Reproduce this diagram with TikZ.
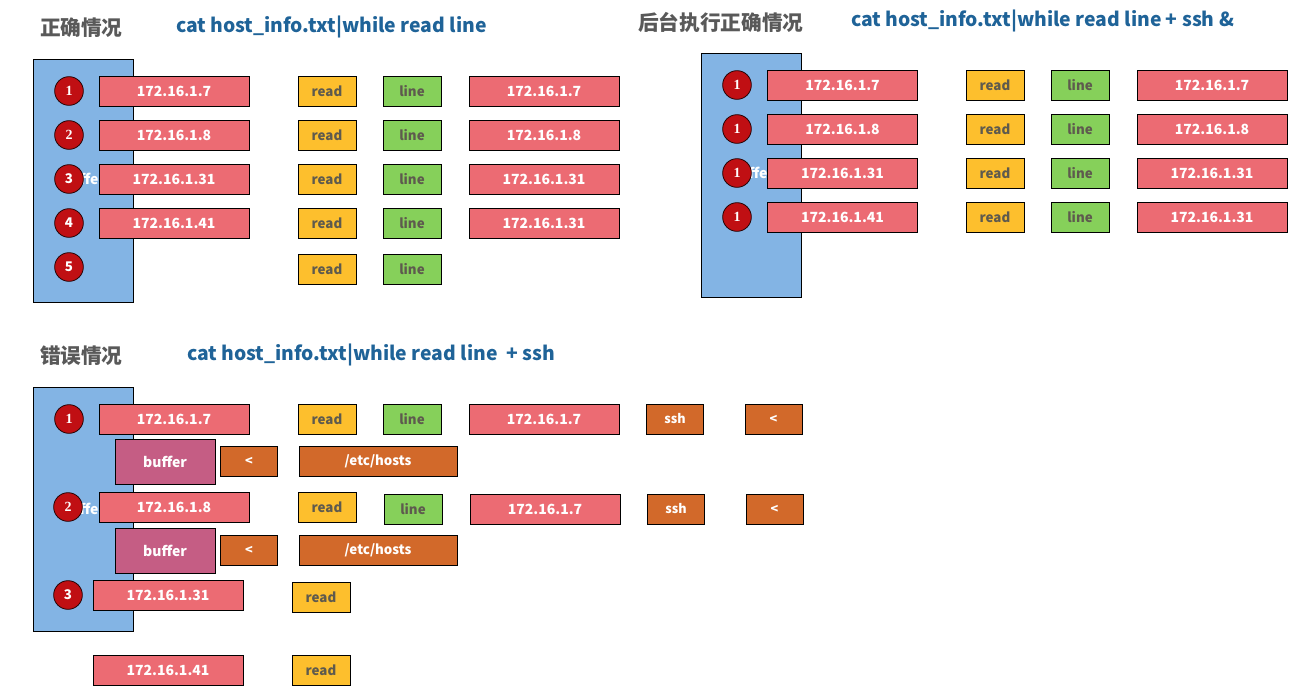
\documentclass[tikz,border=0pt]{standalone}
\usepackage{fontspec}
\setmainfont{Noto Sans CJK SC}
\newfontfamily\numfont{Liberation Serif}
\usetikzlibrary{positioning}
\definecolor{stackblue}{HTML}{83B4E4}
\definecolor{ipred}{HTML}{EC6B73}
\definecolor{readgold}{HTML}{FDBF2D}
\definecolor{linegreen}{HTML}{86D05A}
\definecolor{redirbrown}{HTML}{D2692A}
\definecolor{bufpink}{HTML}{C55D84}
\definecolor{numred}{HTML}{C00F13}
\definecolor{titlegray}{HTML}{595959}
\definecolor{cmdblue}{HTML}{1F6398}
\definecolor{labelgray}{HTML}{5E5A4E}

\begin{document}
\begin{tikzpicture}[x=0.75pt,y=-0.75pt,
  every node/.style={inner sep=0pt,outer sep=0pt},
  box/.style={draw=black,line width=0.6pt,minimum height=22.5pt},
  ipbox/.style={box,fill=ipred,text=white,minimum width=112.5pt,font=\bfseries\fontsize{10.5}{12}\selectfont},
  readbox/.style={box,fill=readgold,text=labelgray,minimum width=43.5pt,font=\bfseries\fontsize{10}{12}\selectfont},
  linebox/.style={box,fill=linegreen,text=labelgray,minimum width=43.5pt,font=\bfseries\fontsize{10}{12}\selectfont},
  redirbox/.style={box,fill=redirbrown,text=white,minimum width=42.75pt,font=\bfseries\fontsize{9.5}{12}\selectfont},
  filebox/.style={box,fill=redirbrown,text=white,minimum width=118.5pt,font=\bfseries\fontsize{10}{12}\selectfont},
  bufbox/.style={box,fill=bufpink,text=white,minimum width=75pt,minimum height=33.75pt,font=\bfseries\fontsize{10.5}{12}\selectfont},
  stack/.style={draw=black,line width=0.6pt,fill=stackblue},
  hidden/.style={text=white,font=\bfseries\fontsize{10.5}{12}\selectfont},
  num/.style={circle,draw=black!80!numred,line width=0.6pt,fill=numred,text=white,minimum size=21.5pt,font=\numfont\bfseries\fontsize{10.5}{12}\selectfont},
  numsans/.style={num,font=\bfseries\fontsize{10}{12}\selectfont},
  case/.style={anchor=west,text=titlegray,font=\bfseries\fontsize{15.5}{18}\selectfont},
  cmd/.style={anchor=west,text=cmdblue,font=\bfseries\fontsize{14.5}{17}\selectfont}]
  \useasboundingbox (0,0) rectangle (1289,687);

  % correct case
  \node[case] (okTitle) at (40,28) {正确情况};
  \node[cmd] (okCmd) at (176,27) {cat host\_info.txt|while read line};
  \draw[stack] (33,59) rectangle (133,302);
  \node[hidden] (okBuf) at (83,179) {buffer};
  \node[num] (okN1) at (69,91) {1};
  \node[num] (okN2) at (69,135) {2};
  \node[numsans] (okN3) at (69,179) {3};
  \node[numsans] (okN4) at (69,223) {4};
  \node[numsans] (okN5) at (69,267) {5};
  \node[ipbox] (okIp1) at (174,91) {172.16.1.7};
  \node[ipbox] (okIp2) at (174,135) {172.16.1.8};
  \node[ipbox] (okIp3) at (174,179) {172.16.1.31};
  \node[ipbox] (okIp4) at (174,223) {172.16.1.41};
  \foreach \y/\n in {91/1,135/2,179/3,223/4,269/5} {
    \node[readbox] (okRead\n) at (327,\y) {read};
    \node[linebox] (okLine\n) at (412,\y) {line};
  }
  \node[ipbox] (okOut1) at (544,91) {172.16.1.7};
  \node[ipbox] (okOut2) at (544,135) {172.16.1.8};
  \node[ipbox] (okOut3) at (544,179) {172.16.1.31};
  \node[ipbox] (okOut4) at (544,223) {172.16.1.31};

  % background case
  \node[case] (bgTitle) at (638,22) {后台执行正确情况};
  \node[cmd] (bgCmd) at (851,21) {cat host\_info.txt|while read line + ssh \&};
  \draw[stack] (701,53) rectangle (801,297);
  \node[hidden] (bgBuf) at (752,173) {buffer};
  \foreach \y/\n in {85/1,129/2,173/3,217/4} {
    \node[num] (bgN\n) at (737,\y) {1};
    \node[readbox] (bgRead\n) at (995,\y) {read};
    \node[linebox] (bgLine\n) at (1080,\y) {line};
  }
  \node[ipbox] (bgIp1) at (842.5,85) {172.16.1.7};
  \node[ipbox] (bgIp2) at (842.5,129) {172.16.1.8};
  \node[ipbox] (bgIp3) at (842.5,173) {172.16.1.31};
  \node[ipbox] (bgIp4) at (842.5,217) {172.16.1.41};
  \node[ipbox] (bgOut1) at (1212,85) {172.16.1.7};
  \node[ipbox] (bgOut2) at (1212,129) {172.16.1.8};
  \node[ipbox] (bgOut3) at (1212,173) {172.16.1.31};
  \node[ipbox] (bgOut4) at (1212,217) {172.16.1.31};

  % wrong case
  \node[case] (errTitle) at (40,356) {错误情况};
  \node[cmd] (errCmd) at (187,355) {cat host\_info.txt|while read line~ + ssh};
  \draw[stack] (33,387) rectangle (133,631);
  \node[hidden] (errBuf) at (83,509) {buffer};
  \node[num] (errN1) at (69,419) {1};
  \node[num] (errN2) at (68,507) {2};
  \node[numsans] (errN3) at (68,595) {3};
  \node[ipbox] (errIp1) at (174,419) {172.16.1.7};
  \node[readbox] (errRead1) at (327,419) {read};
  \node[linebox] (errLine1) at (412,419) {line};
  \node[ipbox] (errOut1) at (544,419) {172.16.1.7};
  \node[redirbox] (errSsh1) at (675,419) {ssh};
  \node[redirbox] (errLt1) at (773.5,419) {<};
  \node[bufbox] (errBuf1) at (165,461.5) {buffer};
  \node[redirbox] (errIn1) at (249,461) {<};
  \node[filebox] (errFile1) at (378,461) {/etc/hosts};
  \node[ipbox] (errIp2) at (174,507) {172.16.1.8};
  \node[readbox] (errRead2) at (327,507) {read};
  \node[linebox] (errLine2) at (413,509) {line};
  \node[ipbox] (errOut2) at (545,509) {172.16.1.7};
  \node[redirbox] (errSsh2) at (676,509) {ssh};
  \node[redirbox] (errLt2) at (774.5,509) {<};
  \node[bufbox] (errBuf2) at (165,550.5) {buffer};
  \node[redirbox] (errIn2) at (249,550) {<};
  \node[filebox] (errFile2) at (378,550) {/etc/hosts};
  \node[ipbox] (errIp3) at (168,595.5) {172.16.1.31};
  \node[readbox] (errRead3) at (321,597.5) {read};
  \node[ipbox] (errIp4) at (168,670.5) {172.16.1.41};
  \node[readbox] (errRead4) at (321,670.5) {read};
\end{tikzpicture}
\end{document}
